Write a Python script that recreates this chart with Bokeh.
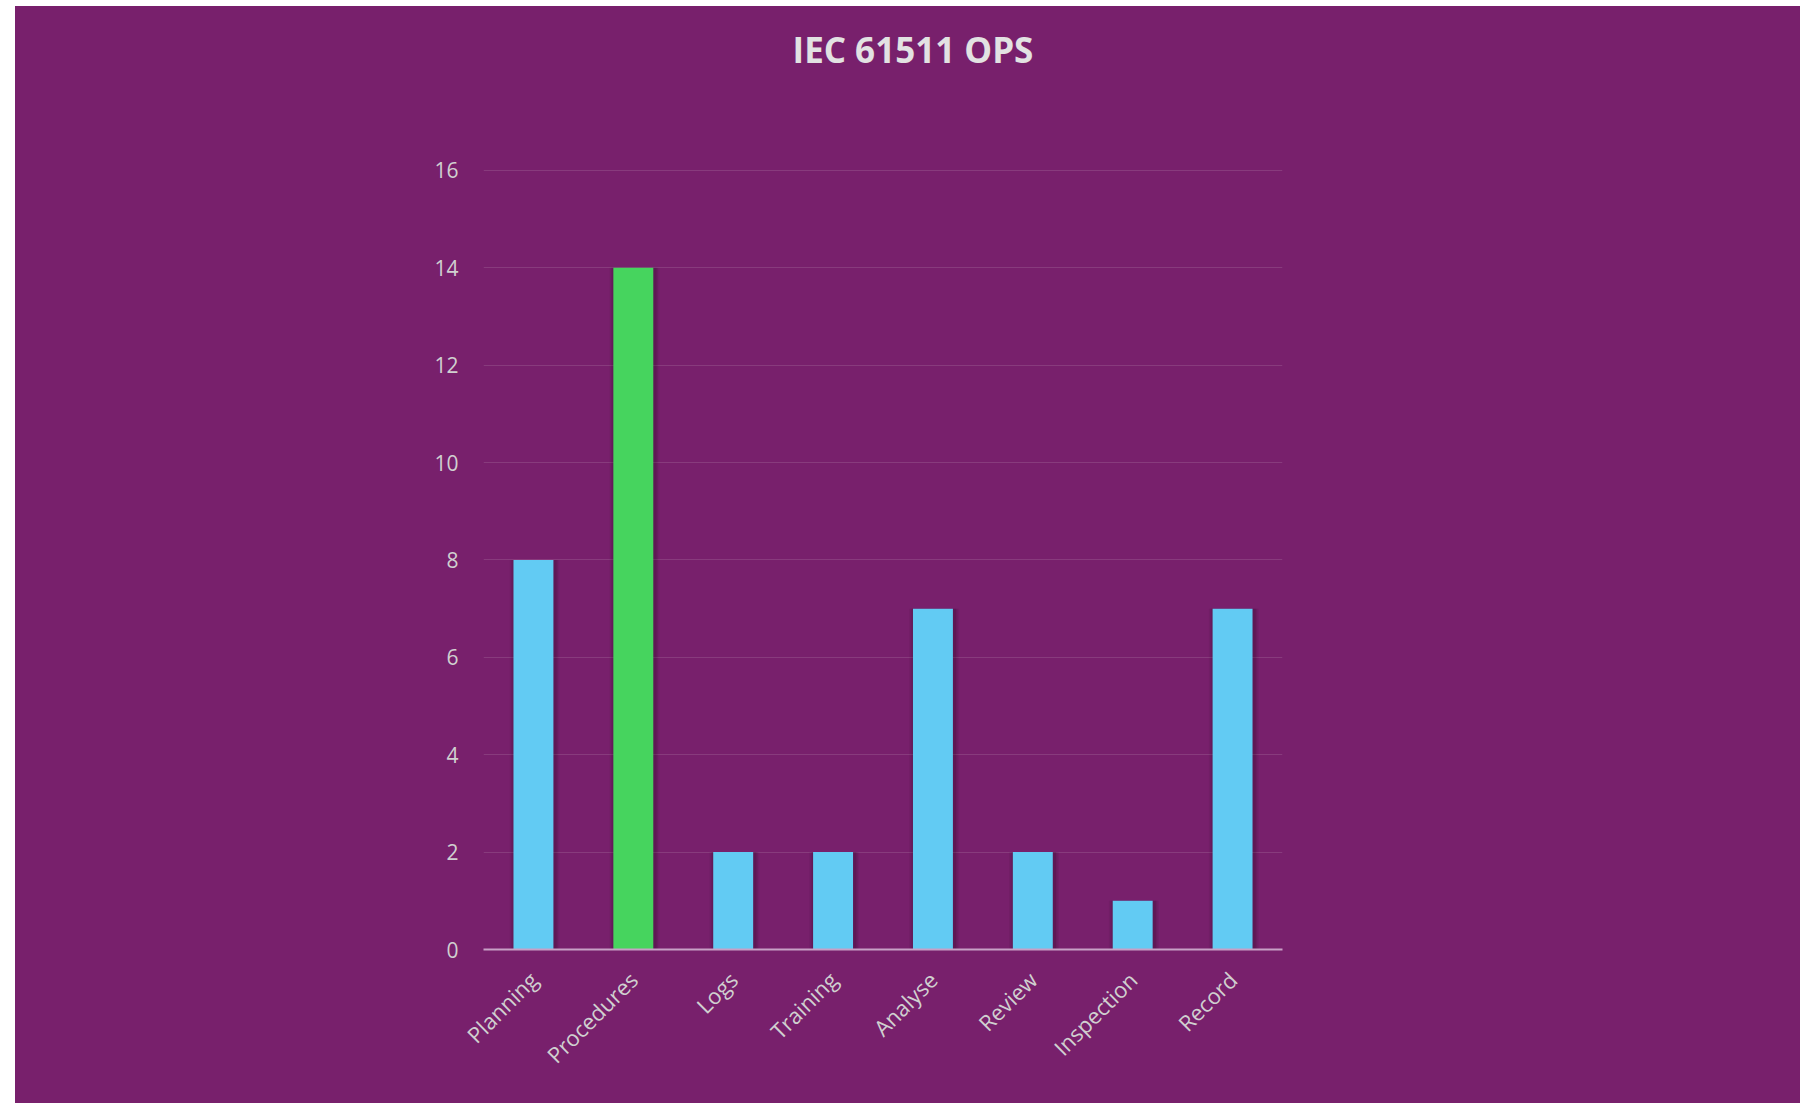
from bokeh.plotting import figure
from bokeh.models import ColumnDataSource, FactorRange, Range1d, FixedTicker, Label
from bokeh.transform import dodge
from bokeh.embed import file_html
from bokeh.resources import INLINE
import math

categories = ["Planning", "Procedures", "Logs", "Training", "Analyse", "Review", "Inspection", "Record"]
values = [8, 14, 2, 2, 7, 2, 1, 7]
y_ticks = [0, 2, 4, 6, 8, 10, 12, 14, 16]
title_text = "IEC 61511 OPS"

BLUE = "#62CBF3"
GREEN = "#46D45E"
BG = "#78206C"
colors = [GREEN if v == max(values) else BLUE for v in values]

src = ColumnDataSource(dict(cat=categories, val=values, color=colors))

W, H = 1785, 1097
PX_PER_UNIT = 48.69          # vertical scale of the value axis
FRAME_BOTTOM = 943           # pixels from the figure top
y_top = FRAME_BOTTOM / PX_PER_UNIT   # frame reaches the top so the title sits inside it

p = figure(
    x_range=FactorRange(factors=categories, range_padding=0),
    y_range=Range1d(0, y_top),
    width=W, height=H,
    margin=(6, 0, 0, 15),
    output_backend="svg", toolbar_location=None,
    min_border_left=468, min_border_right=518,
    min_border_top=0, min_border_bottom=H - FRAME_BOTTOM,
    background_fill_color=BG, border_fill_color=BG,
)
p.outline_line_color = None
p.styles = {"background-color": BG}

p.add_layout(Label(
    x=4.30, y=(FRAME_BOTTOM - 43) / PX_PER_UNIT,
    text=title_text, text_align="center", text_baseline="middle",
    text_font="Open Sans", text_font_size="35px", text_font_style="bold",
    text_color="#E2E2E2",
))

# soft shadow layers
for w, a in [(0.50, 0.05), (0.47, 0.07), (0.44, 0.09)]:
    p.vbar(x=dodge("cat", 0.012, range=p.x_range), top="val", bottom=-0.06, width=w,
           source=src, fill_color="black", fill_alpha=a, line_color=None)

p.vbar(x="cat", top="val", width=0.4, source=src, fill_color="color", line_color=None)

p.yaxis.ticker = FixedTicker(ticks=y_ticks)
p.ygrid.ticker = FixedTicker(ticks=y_ticks)
p.xgrid.grid_line_color = None
p.ygrid.grid_line_color = "white"
p.ygrid.grid_line_alpha = 0.12
p.ygrid.grid_line_width = 1

for ax in (p.xaxis, p.yaxis):
    ax.major_tick_line_color = None
    ax.minor_tick_line_color = None
    ax.major_label_text_font = "Open Sans"
    ax.major_label_text_color = "#D0D0D0"

p.yaxis.major_label_text_font_size = "21px"
p.xaxis.major_label_text_font_size = "22px"
p.yaxis.axis_line_color = None
p.yaxis.major_label_standoff = 19
p.xaxis.axis_line_color = "#C8A0C6"
p.xaxis.axis_line_width = 2
p.xaxis.major_label_orientation = math.pi / 4
p.xaxis.major_label_standoff = 20

open("out.html", "w").write(file_html(p, INLINE))
